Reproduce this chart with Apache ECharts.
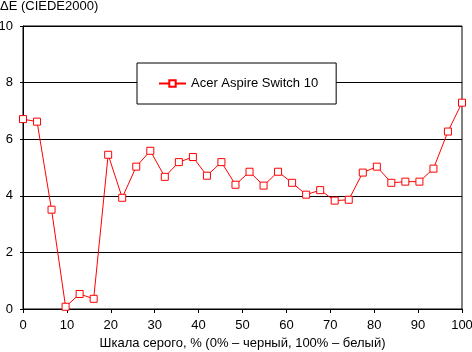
<!DOCTYPE html>
<html><head><meta charset="utf-8">
<script src="https://cdn.jsdelivr.net/npm/echarts@6/dist/echarts.min.js"></script>
<style>html,body{margin:0;padding:0;background:#fff}#c{width:472px;height:352px}</style>
</head><body><div id="c"></div>
<script>
var grayLevels = [0, 3.2, 6.5, 9.7, 12.9, 16.1, 19.4, 22.6, 25.8, 29.0, 32.3, 35.5, 38.7, 41.9, 45.2, 48.4, 51.6, 54.8, 58.1, 61.3, 64.5, 67.7, 71.0, 74.2, 77.4, 80.6, 83.9, 87.1, 90.3, 93.5, 96.8, 100];
var deltaE = [6.71, 6.62, 3.51, 0.08, 0.53, 0.36, 5.45, 3.93, 5.03, 5.59, 4.67, 5.19, 5.37, 4.71, 5.19, 4.39, 4.85, 4.36, 4.85, 4.46, 4.04, 4.2, 3.83, 3.86, 4.82, 5.03, 4.46, 4.5, 4.5, 4.96, 6.27, 7.29];
var seriesName = 'Acer Aspire Switch 10';
var yTitle = 'ΔE (CIEDE2000)';
var xTitle = 'Шкала серого, % (0% – черный, 100% – белый)';

var font = 'Arial, "Liberation Sans", sans-serif';
var chart = echarts.init(document.getElementById('c'), null, {renderer: 'canvas'});
chart.setOption({
  animation: false,
  backgroundColor: '#fff',
  textStyle: {fontFamily: font, color: '#000'},
  title: {text: yTitle, left: 0, top: 0, padding: 0,
    textStyle: {fontFamily: font, fontSize: 13, fontWeight: 'normal', color: '#000'}},
  grid: {left: 23, right: 10, top: 26, bottom: 43, containLabel: false, outerBoundsMode: 'none',
    show: true, borderColor: '#000', borderWidth: 1, backgroundColor: 'transparent'},
  legend: {
    left: 137, top: 63, padding: [14, 18, 14, 21],
    backgroundColor: '#fff', borderColor: '#000', borderWidth: 1,
    itemWidth: 27, itemHeight: 8, itemGap: 4,
    textStyle: {fontFamily: font, fontSize: 13, color: '#000'},
    data: [seriesName]
  },
  xAxis: {
    type: 'value', min: 0, max: 100, interval: 10,
    name: xTitle, nameLocation: 'middle', nameGap: 28,
    nameTextStyle: {fontFamily: font, fontSize: 13, color: '#000'},
    axisLine: {onZero: false, lineStyle: {color: '#000', width: 1}},
    axisTick: {show: true, length: 4, lineStyle: {color: '#000'}},
    axisLabel: {fontFamily: font, fontSize: 13, color: '#000', margin: 10},
    splitLine: {show: false}
  },
  yAxis: {
    type: 'value', min: 0, max: 10, interval: 2,
    axisLine: {show: true, lineStyle: {color: '#000', width: 1}},
    axisTick: {show: true, length: 3, lineStyle: {color: '#000'}},
    axisLabel: {fontFamily: font, fontSize: 13, color: '#000', margin: 10},
    splitLine: {show: true, lineStyle: {color: '#000', width: 1}}
  },
  series: [{
    name: seriesName, type: 'line',
    data: grayLevels.map(function (x, i) { return [x, deltaE[i]]; }),
    symbol: 'rect', symbolSize: 7, showAllSymbol: true,
    itemStyle: {color: '#fff', borderColor: '#ff0000', borderWidth: 1},
    lineStyle: {color: '#ff0000', width: 1},
    emphasis: {disabled: true}
  }]
});
</script></body></html>
